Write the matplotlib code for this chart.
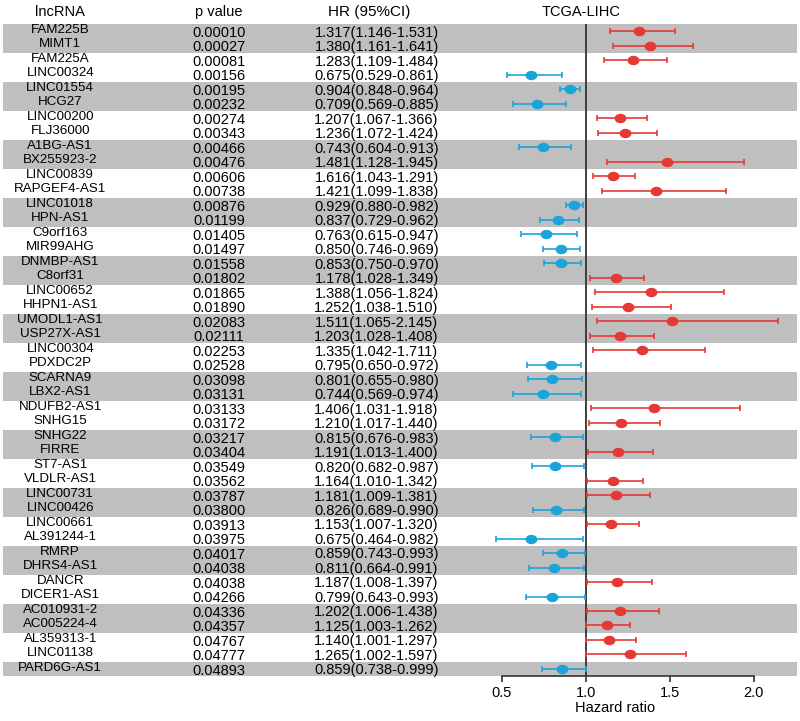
import numpy as np
import matplotlib
matplotlib.use('Agg')
import matplotlib.pyplot as plt
from matplotlib.path import Path

plt.rcParams['font.family'] = ['Liberation Sans', 'DejaVu Sans']

genes = ['FAM225B', 'MIMT1', 'FAM225A', 'LINC00324', 'LINC01554', 'HCG27',
         'LINC00200', 'FLJ36000', 'A1BG-AS1', 'BX255923-2', 'LINC00839',
         'RAPGEF4-AS1', 'LINC01018', 'HPN-AS1', 'C9orf163', 'MIR99AHG',
         'DNMBP-AS1', 'C8orf31', 'LINC00652', 'HHPN1-AS1', 'UMODL1-AS1',
         'USP27X-AS1', 'LINC00304', 'PDXDC2P', 'SCARNA9', 'LBX2-AS1',
         'NDUFB2-AS1', 'SNHG15', 'SNHG22', 'FIRRE', 'ST7-AS1', 'VLDLR-AS1',
         'LINC00731', 'LINC00426', 'LINC00661', 'AL391244-1', 'RMRP',
         'DHRS4-AS1', 'DANCR', 'DICER1-AS1', 'AC010931-2', 'AC005224-4',
         'AL359313-1', 'LINC01138', 'PARD6G-AS1']

pvals = [0.00010, 0.00027, 0.00081, 0.00156, 0.00195, 0.00232, 0.00274,
         0.00343, 0.00466, 0.00476, 0.00606, 0.00738, 0.00876, 0.01199,
         0.01405, 0.01497, 0.01558, 0.01802, 0.01865, 0.01890, 0.02083,
         0.02111, 0.02253, 0.02528, 0.03098, 0.03131, 0.03133, 0.03172,
         0.03217, 0.03404, 0.03549, 0.03562, 0.03787, 0.03800, 0.03913,
         0.03975, 0.04017, 0.04038, 0.04038, 0.04266, 0.04336, 0.04357,
         0.04767, 0.04777, 0.04893]

# text column as printed in the table
hr_text = ['1.317(1.146-1.531)', '1.380(1.161-1.641)', '1.283(1.109-1.484)',
           '0.675(0.529-0.861)', '0.904(0.848-0.964)', '0.709(0.569-0.885)',
           '1.207(1.067-1.366)', '1.236(1.072-1.424)', '0.743(0.604-0.913)',
           '1.481(1.128-1.945)', '1.616(1.043-1.291)', '1.421(1.099-1.838)',
           '0.929(0.880-0.982)', '0.837(0.729-0.962)', '0.763(0.615-0.947)',
           '0.850(0.746-0.969)', '0.853(0.750-0.970)', '1.178(1.028-1.349)',
           '1.388(1.056-1.824)', '1.252(1.038-1.510)', '1.511(1.065-2.145)',
           '1.203(1.028-1.408)', '1.335(1.042-1.711)', '0.795(0.650-0.972)',
           '0.801(0.655-0.980)', '0.744(0.569-0.974)', '1.406(1.031-1.918)',
           '1.210(1.017-1.440)', '0.815(0.676-0.983)', '1.191(1.013-1.400)',
           '0.820(0.682-0.987)', '1.164(1.010-1.342)', '1.181(1.009-1.381)',
           '0.826(0.689-0.990)', '1.153(1.007-1.320)', '0.675(0.464-0.982)',
           '0.859(0.743-0.993)', '0.811(0.664-0.991)', '1.187(1.008-1.397)',
           '0.799(0.643-0.993)', '1.202(1.006-1.438)', '1.125(1.003-1.262)',
           '1.140(1.001-1.297)', '1.265(1.002-1.597)', '0.859(0.738-0.999)']

# plotted values (LINC00839 point is drawn at ~1.16)
hr = [1.317, 1.380, 1.283, 0.675, 0.904, 0.709, 1.207, 1.236, 0.743, 1.481,
      1.16, 1.421, 0.929, 0.837, 0.763, 0.850, 0.853, 1.178, 1.388, 1.252,
      1.511, 1.203, 1.335, 0.795, 0.801, 0.744, 1.406, 1.210, 0.815, 1.191,
      0.820, 1.164, 1.181, 0.826, 1.153, 0.675, 0.859, 0.811, 1.187, 0.799,
      1.202, 1.125, 1.140, 1.265, 0.859]
lo = [1.146, 1.161, 1.109, 0.529, 0.848, 0.569, 1.067, 1.072, 0.604, 1.128,
      1.043, 1.099, 0.880, 0.729, 0.615, 0.746, 0.750, 1.028, 1.056, 1.038,
      1.065, 1.028, 1.042, 0.650, 0.655, 0.569, 1.031, 1.017, 0.676, 1.013,
      0.682, 1.010, 1.009, 0.689, 1.007, 0.464, 0.743, 0.664, 1.008, 0.643,
      1.006, 1.003, 1.001, 1.002, 0.738]
hi = [1.531, 1.641, 1.484, 0.861, 0.964, 0.885, 1.366, 1.424, 0.913, 1.945,
      1.291, 1.838, 0.982, 0.962, 0.947, 0.969, 0.970, 1.349, 1.824, 1.510,
      2.145, 1.408, 1.711, 0.972, 0.980, 0.974, 1.918, 1.440, 0.983, 1.400,
      0.987, 1.342, 1.381, 0.990, 1.320, 0.982, 0.993, 0.991, 1.397, 0.993,
      1.438, 1.262, 1.297, 1.597, 0.999]

red = '#E53935'
blue = '#1CA3DC'
band = '#BFBFBF'

n = len(genes)
y = np.arange(n)
hr = np.array(hr)
lo = np.array(lo)
hi = np.array(hi)

fig = plt.figure(figsize=(8, 7.21), dpi=100)
ax = fig.add_axes([3 / 800, 0.0621, 794 / 800, 0.9046])
ax.set_xlim(-2.4685, 2.2577)
ax.set_ylim(n - 0.5, -0.5)

# grey bands, two rows each
for i in range(0, n, 4):
    ax.axhspan(i - 0.5, min(i + 1.5, n - 0.5), color=band, lw=0, zorder=0)

ax.axvline(1.0, color='#333333', lw=1.3, zorder=1)

# small ellipse marker
t = np.linspace(0, 2 * np.pi, 40)
ell = Path(np.column_stack([1.3 * np.cos(t), np.sin(t)]))

for i in range(n):
    c = red if hr[i] > 1 else blue
    ax.errorbar(hr[i], y[i], xerr=[[hr[i] - lo[i]], [hi[i] - hr[i]]],
                fmt='none', ecolor=c, elinewidth=1.2, capsize=2.2,
                capthick=1.2, zorder=3)
    ax.plot(hr[i], y[i], marker=ell, ms=7.5, color=c, mec=c, zorder=4)

    ax.text(-2.128, y[i] - 0.1, genes[i], ha='center', va='center',
            fontsize=9.6)
    ax.text(-1.182, y[i] + 0.12, '%.5f' % pvals[i], ha='center', va='center',
            fontsize=10.5)
    ax.text(-0.245, y[i] + 0.1, hr_text[i], ha='center', va='center',
            fontsize=10.5)

# headers
hy = -1.33
ax.text(-2.128, hy, 'lncRNA', ha='center', va='center', fontsize=10.5)
ax.text(-1.182, hy, 'p value', ha='center', va='center', fontsize=10.5)
ax.text(-0.29, hy, 'HR (95%CI)', ha='center', va='center', fontsize=11)
ax.text(0.972, hy, 'TCGA-LIHC', ha='center', va='center', fontsize=10.5)

for s in ['top', 'right', 'left']:
    ax.spines[s].set_visible(False)
ax.spines['bottom'].set_bounds(0.5, 2.0)
ax.spines['bottom'].set_linewidth(1.2)
ax.spines['bottom'].set_color('#333333')
ax.set_xticks([0.5, 1.0, 1.5, 2.0])
ax.set_xticklabels(['0.5', '1.0', '1.5', '2.0'])
ax.tick_params(axis='x', length=4, width=1.2, color='#333333', labelsize=10.5,
               pad=3)
ax.set_yticks([])
ax.text(1.174, 46.7, 'Hazard ratio', ha='center', va='center', fontsize=10.5,
        clip_on=False)

fig.savefig('out.png', dpi=100)
